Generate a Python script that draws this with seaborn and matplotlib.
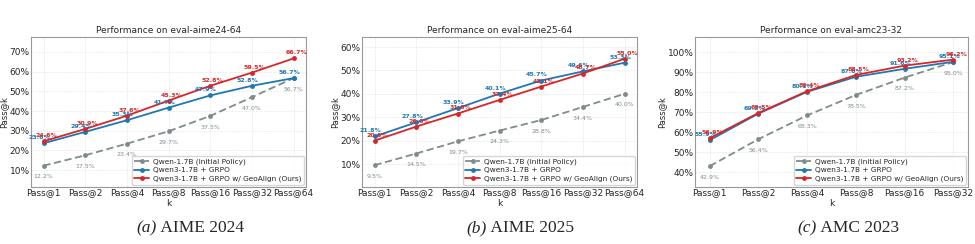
import matplotlib
matplotlib.use("Agg")
import matplotlib.pyplot as plt
import matplotlib.ticker as mtick
import pandas as pd
import seaborn as sns

sns.set_theme(style="whitegrid")
plt.rcParams['font.family'] = ['DejaVu Sans']

# data (percent)
k_aime = ["Pass@1", "Pass@2", "Pass@4", "Pass@8", "Pass@16", "Pass@32", "Pass@64"]
k_amc = ["Pass@1", "Pass@2", "Pass@4", "Pass@8", "Pass@16", "Pass@32"]

aime24_base = [12.2, 17.5, 23.4, 29.7, 37.5, 47.0, 56.7]
aime24_grpo = [23.6, 29.4, 35.3, 41.7, 47.9, 52.8, 56.7]
aime24_geo = [24.6, 30.9, 37.6, 45.3, 52.8, 59.5, 66.7]

aime25_base = [9.5, 14.5, 19.7, 24.3, 28.8, 34.4, 40.0]
aime25_grpo = [21.8, 27.8, 33.9, 40.1, 45.7, 49.6, 53.3]
aime25_geo = [20.0, 26.0, 31.6, 37.4, 43.1, 48.7, 55.0]

amc23_base = [42.9, 56.4, 68.3, 78.5, 87.2, 95.0]
amc23_grpo = [55.9, 69.2, 80.1, 87.6, 91.6, 95.1]
amc23_geo = [56.9, 69.5, 80.4, 88.5, 93.2, 96.2]

names = ["Qwen-1.7B (Initial Policy)", "Qwen3-1.7B + GRPO",
         "Qwen3-1.7B + GRPO w/ GeoAlign (Ours)"]
colors = ["#7f8c8d", "#1f77b4", "#d62728"]

panels = [
    ("Performance on eval-aime24-64", k_aime, [aime24_base, aime24_grpo, aime24_geo],
     (1.4, 77.6), range(10, 71, 10), "(a)", "AIME 2024"),
    ("Performance on eval-aime25-64", k_aime, [aime25_base, aime25_grpo, aime25_geo],
     (0.2, 64.3), range(10, 61, 10), "(b)", "AIME 2025"),
    ("Performance on eval-amc23-32", k_amc, [amc23_base, amc23_grpo, amc23_geo],
     (32.5, 107.5), range(40, 101, 10), "(c)", "AMC 2023"),
]

fig = plt.figure(figsize=(9.75, 2.44), dpi=100)
W, H = 975, 244
axes_px = [(31, 306), (362, 637), (695, 968)]
cap_x = [157, 487, 817]

for i, (title, ks, series, ylim, yt, tag, cap) in enumerate(panels):
    x0, x1 = axes_px[i]
    ax = fig.add_axes([x0 / W, 1 - 187 / H, (x1 - x0) / W, 150 / H])
    rows = []
    for name, vals in zip(names, series):
        for j, v in enumerate(vals):
            rows.append({"k": j, "val": v, "model": name})
    df = pd.DataFrame(rows)
    sns.lineplot(data=df, x="k", y="val", hue="model", style="model",
                 palette=colors, dashes=[(4, 2), "", ""], markers=["o", "o", "o"],
                 markersize=3.5, markeredgewidth=0, linewidth=1.3, ax=ax)

    # value labels
    for m, vals in enumerate(series):
        for j, v in enumerate(vals):
            if m == 0:
                ax.annotate(f"{v:.1f}%", (j, v), xytext=(0, -8), textcoords="offset points",
                            ha="center", va="center", fontsize=4.5, color=colors[0])
            else:
                ax.annotate(f"{v:.1f}%", (j, v), xytext=(-3 if m == 1 else 2, 4),
                            textcoords="offset points", ha="center", va="center",
                            fontsize=4.5, color=colors[m], fontweight="bold")

    ax.set_xticks(range(len(ks)))
    ax.set_xticklabels(ks)
    ax.set_xlim(-0.3, len(ks) - 0.7)
    ax.set_ylim(*ylim)
    ax.set_yticks(list(yt))
    ax.yaxis.set_major_formatter(mtick.PercentFormatter(100, decimals=0))
    ax.tick_params(labelsize=6.5, pad=1, length=0)
    ax.set_xlabel("k", fontsize=6.5, labelpad=1)
    ax.set_ylabel("Pass@k", fontsize=6, labelpad=1)
    ax.set_title(title, fontsize=6.5, pad=3)
    ax.grid(True, linestyle="--", linewidth=0.4, color="#e2e2e2")
    for s in ax.spines.values():
        s.set_color("#999999")
        s.set_linewidth(0.8)

    L = ax.legend(loc="lower right", fontsize=5.3, frameon=True, handlelength=2.0,
                  borderpad=0.35, labelspacing=0.3, borderaxespad=0.3,
                  handletextpad=0.5)
    L.get_frame().set_edgecolor("#cccccc")

    fig.text(cap_x[i] / W, 1 - 228 / H, tag, fontsize=12.5, style="italic",
             family="Liberation Serif", ha="right", va="center")
    fig.text(cap_x[i] / W, 1 - 228 / H, " " + cap, fontsize=12.5,
             family="Liberation Serif", ha="left", va="center")

fig.savefig("out.png", dpi=100)
